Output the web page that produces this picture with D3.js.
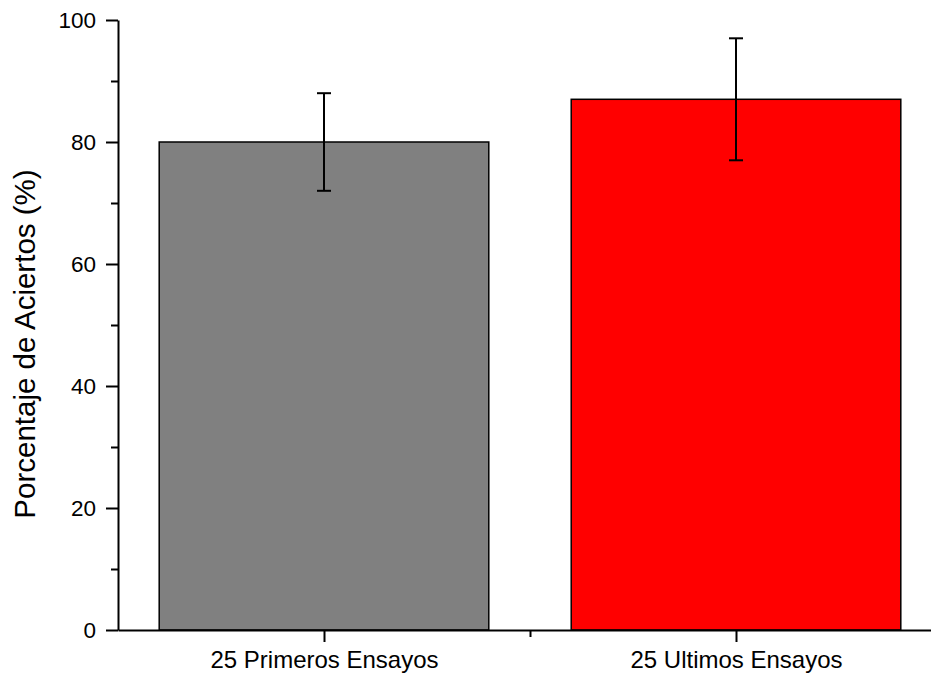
<!DOCTYPE html>
<html><head><meta charset="utf-8">
<script src="https://cdn.jsdelivr.net/npm/d3@7"></script>
<style>body{margin:0;background:#fff}svg{display:block}text{font-family:"Liberation Sans",Arial,sans-serif;fill:#000}</style>
</head><body>
<svg id="c" width="931" height="674"></svg>
<script>
const categories = ["25 Primeros Ensayos", "25 Ultimos Ensayos"];
const positions = [1, 2];
const values = [80, 87];
const errors = [8, 10];
const colors = ["#808080", "#ff0000"];
const yTicks = [0, 20, 40, 60, 80, 100];
const yMinor = [10, 30, 50, 70, 90];
const xMinor = [1.5];
const yLabel = "Porcentaje de Aciertos (%)";

const svg = d3.select("#c");
const x = d3.scaleLinear().domain([0.5, 2.5]).range([118, 942]);
const y = d3.scaleLinear().domain([0, 100]).range([630, 20]);
const barW = 0.8;

// bars
svg.selectAll("rect.bar").data(values).join("rect")
  .attr("x", (d, i) => x(positions[i] - barW / 2))
  .attr("width", (d, i) => x(positions[i] + barW / 2) - x(positions[i] - barW / 2))
  .attr("y", d => y(d))
  .attr("height", d => y(0) - y(d))
  .attr("fill", (d, i) => colors[i])
  .attr("stroke", "#000").attr("stroke-width", 1.5);

// error bars
const eb = svg.append("g").attr("stroke", "#000").attr("stroke-width", 2);
values.forEach((v, i) => {
  const cx = x(positions[i]);
  eb.append("line").attr("x1", cx).attr("x2", cx).attr("y1", y(v + errors[i])).attr("y2", y(v - errors[i]));
  [v + errors[i], v - errors[i]].forEach(e => {
    eb.append("line").attr("x1", cx - 7).attr("x2", cx + 7).attr("y1", y(e)).attr("y2", y(e));
  });
});

// y axis
const yAx = svg.append("g").attr("transform", "translate(118,0)")
  .call(d3.axisLeft(y).tickValues(yTicks).tickSize(12).tickSizeOuter(0).tickPadding(10).tickFormat(d3.format("d")));
svg.append("g").attr("transform", "translate(118,0)")
  .call(d3.axisLeft(y).tickValues(yMinor).tickSize(7).tickSizeOuter(0).tickFormat(""))
  .select(".domain").remove();
yAx.selectAll("text").attr("font-size", 22.5).attr("font-family", "Liberation Sans, Arial, sans-serif").attr("fill", "#000");

// x axis
const xAx = svg.append("g").attr("transform", "translate(0,630)")
  .call(d3.axisBottom(x).tickValues(positions).tickSize(12).tickSizeOuter(0).tickPadding(9)
    .tickFormat((d, i) => categories[i]));
svg.append("g").attr("transform", "translate(0,630)")
  .call(d3.axisBottom(x).tickValues(xMinor).tickSize(7).tickSizeOuter(0).tickFormat(""))
  .select(".domain").remove();
xAx.selectAll("text").attr("font-size", 24).attr("font-family", "Liberation Sans, Arial, sans-serif").attr("fill", "#000");

svg.selectAll(".domain, .tick line").attr("stroke", "#000").attr("stroke-width", 2);

// y label
svg.append("text")
  .attr("transform", "translate(35,344) rotate(-90)")
  .attr("text-anchor", "middle")
  .attr("font-size", 29.5)
  .text(yLabel);
</script>
</body></html>
